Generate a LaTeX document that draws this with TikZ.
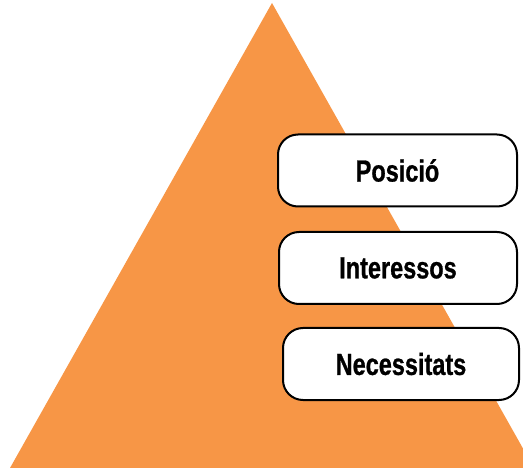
\documentclass[tikz,border=0pt]{standalone}
\usepackage{fontspec}
\newfontfamily\boxfont[FakeStretch=0.77,FakeBold=0.8]{Liberation Sans Bold}
\definecolor{pyr}{RGB}{247,150,70}
\begin{document}
\begin{tikzpicture}[x=1pt,y=-1pt,
  box/.style={draw=black, line width=2pt, fill=white, rounded corners=20pt,
    minimum height=72pt, inner sep=0pt, font=\boxfont\fontsize{30.5}{33}\selectfont}]
\useasboundingbox (0,0) rectangle (523,468);
\begin{scope}
\clip (0,0) rectangle (523,468);
\fill[pyr] (272,3) -- (534,468) -- (10,468) -- cycle;
\end{scope}
\node[box, minimum width=239pt] (pos) at (397.5,170.5) {Posició};
\node[box, minimum width=238pt] (int) at (398,268) {Interessos};
\node[box, minimum width=236pt] (nec) at (401,364) {Necessitats};
\end{tikzpicture}
\end{document}
